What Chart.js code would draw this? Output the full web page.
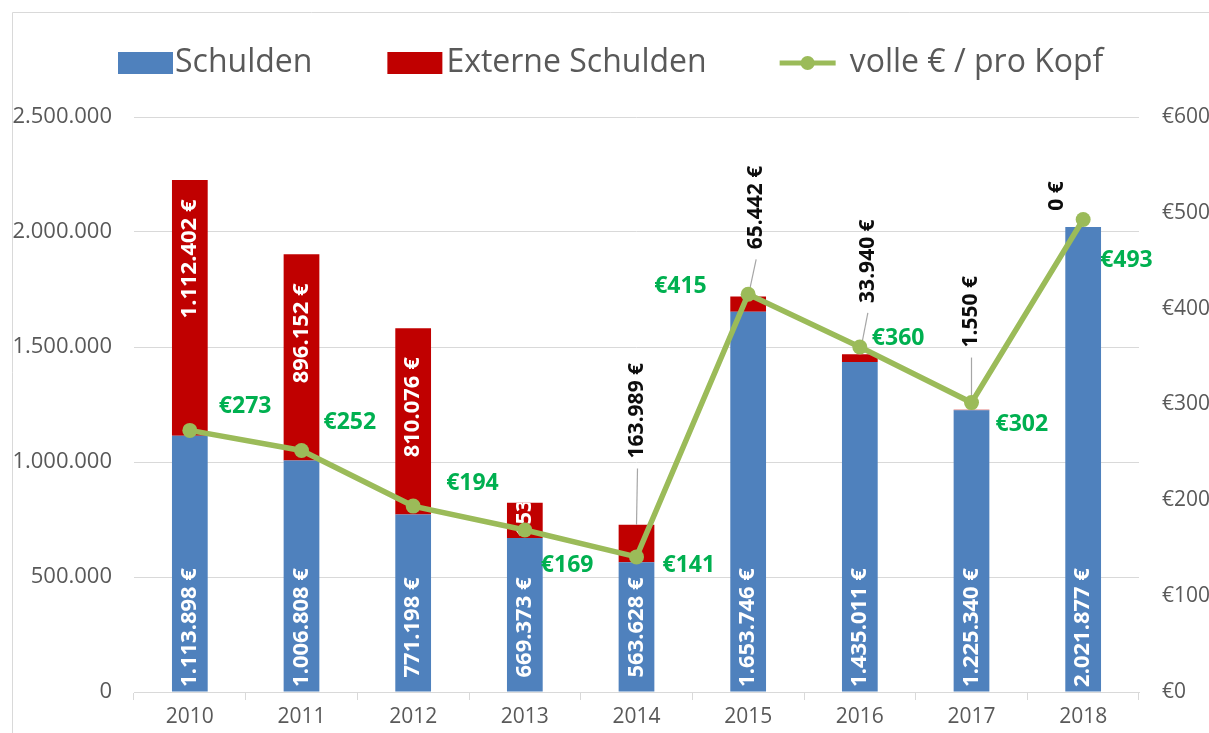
<!DOCTYPE html>
<html>
<head>
<meta charset="utf-8">
<script src="https://cdn.jsdelivr.net/npm/chart.js@4.4.1/dist/chart.umd.min.js"></script>
<style>
  html, body { margin: 0; padding: 0; background: #fff; }
  #wrap { width: 1209px; height: 733px; }
</style>
</head>
<body>
<div id="wrap"><canvas id="myChart" width="1209" height="733"></canvas></div>
<script>
"use strict";

const years = ["2010", "2011", "2012", "2013", "2014", "2015", "2016", "2017", "2018"];
const schulden = [1113898, 1006808, 771198, 669373, 563628, 1653746, 1435011, 1225340, 2021877];
const externeSchulden = [1112402, 896152, 810076, 153000, 163989, 65442, 33940, 1550, 0];
const proKopf = [273, 252, 194, 169, 141, 415, 360, 302, 493];

const blue = "#4f81bd";
const red = "#c00000";
const lineGreen = "#9bbb59";
const labelGreen = "#00b050";
const grey = "#595959";
const font = "'Open Sans', 'Liberation Sans', sans-serif";

// how each red label is placed: inside top, clipped, or callout above the bar
const extMode = ["in", "in", "in", "clip", "out", "out", "out", "out", "out"];
// callout label centre relative to the bar top [dx, dy]
const calloutPos = { 4: [1, -114], 5: [8, -89], 6: [8, -93], 7: [0, -98], 8: [-26, -31] };
// green label left edge / middle relative to the point [dx, dy]
const pkOffset = [[29, -24], [22, -28], [33, -23], [16, 35], [26, 9], [-94, -8], [12, -9], [24, 22], [17, 41]];

function fmt(v) {
  return String(Math.round(v)).replace(/\B(?=(\d{3})+(?!\d))/g, ".");
}

function rotText(ctx, text, x, y, align) {
  ctx.save();
  ctx.translate(x, y);
  ctx.rotate(-Math.PI / 2);
  ctx.textAlign = align;
  ctx.textBaseline = "middle";
  ctx.fillText(text, 0, 0);
  ctx.restore();
}

const frame = {
  id: "frame",
  beforeDraw(chart) {
    const ctx = chart.ctx;
    ctx.save();
    ctx.fillStyle = "#fff";
    ctx.fillRect(0, 0, chart.width, chart.height);
    ctx.strokeStyle = "#d9d9d9";
    ctx.lineWidth = 1;
    ctx.beginPath();
    ctx.moveTo(12.5, chart.height);
    ctx.lineTo(12.5, 12.5);
    ctx.lineTo(chart.width, 12.5);
    ctx.stroke();

    // legend
    ctx.font = "32px " + font;
    ctx.textBaseline = "middle";
    ctx.textAlign = "left";
    let x = 118;
    const y = 63;
    ctx.fillStyle = blue;
    ctx.fillRect(x, 52, 55, 22);
    x += 57;
    ctx.fillStyle = grey;
    ctx.fillText("Schulden", x, y);
    x += ctx.measureText("Schulden").width + 75;
    ctx.fillStyle = red;
    ctx.fillRect(x, 52, 55, 22);
    x += 59;
    ctx.fillStyle = grey;
    ctx.fillText("Externe Schulden", x, y);
    x += ctx.measureText("Externe Schulden").width + 73;
    ctx.strokeStyle = lineGreen;
    ctx.lineWidth = 5;
    ctx.beginPath();
    ctx.moveTo(x, y);
    ctx.lineTo(x + 56, y);
    ctx.stroke();
    ctx.fillStyle = lineGreen;
    ctx.beginPath();
    ctx.arc(x + 28, y, 7, 0, Math.PI * 2);
    ctx.fill();
    x += 70;
    ctx.fillStyle = grey;
    ctx.fillText("volle € / pro Kopf", x, y);
    ctx.restore();
  },
  afterDatasetDraw(chart, args) {
    if (args.index !== 0) return;
    const ctx = chart.ctx;
    const base = chart.getDatasetMeta(0).data;
    const ext = chart.getDatasetMeta(1).data;
    ctx.save();
    ctx.font = "bold 22px " + font;
    ctx.fillStyle = "#fff";
    base.forEach((bar, i) => {
      rotText(ctx, fmt(schulden[i]) + " €", bar.x, bar.base - 64, "center");
    });
    ext.forEach((bar, i) => {
      const txt = fmt(externeSchulden[i]) + " €";
      if (extMode[i] === "in") {
        ctx.fillStyle = "#fff";
        ctx.font = "bold 22px " + font;
        rotText(ctx, txt, bar.x, bar.y + 79, "center");
      } else if (extMode[i] === "clip") {
        ctx.save();
        ctx.beginPath();
        ctx.rect(bar.x - bar.width / 2, bar.y, bar.width, bar.base - bar.y);
        ctx.clip();
        ctx.fillStyle = "#fff";
        ctx.font = "bold 22px " + font;
        rotText(ctx, txt, bar.x, bar.base - 1, "left");
        ctx.restore();
      } else {
        const p = calloutPos[i];
        ctx.font = "bold 21px " + font;
        const w = ctx.measureText(txt).width;
        const lx = bar.x + p[0];
        const ly = bar.y + p[1];
        if (p[1] < -40) {
          ctx.strokeStyle = "#a6a6a6";
          ctx.lineWidth = 1.2;
          ctx.beginPath();
          ctx.moveTo(bar.x, bar.y);
          ctx.lineTo(lx, ly + w / 2 + 10);
          ctx.stroke();
        }
        ctx.fillStyle = "#0d0d0d";
        rotText(ctx, txt, lx, ly, "center");
      }
    });
    ctx.restore();
  },
  afterDatasetsDraw(chart) {
    const ctx = chart.ctx;
    const pts = chart.getDatasetMeta(2).data;
    ctx.save();
    ctx.font = "bold 23px " + font;
    ctx.fillStyle = labelGreen;
    ctx.textAlign = "left";
    ctx.textBaseline = "middle";
    pts.forEach((pt, i) => {
      ctx.fillText("€" + proKopf[i], pt.x + pkOffset[i][0], pt.y + pkOffset[i][1]);
    });
    ctx.restore();
  },
};

const tickFont = { family: font, size: 21 };

new Chart("myChart", {
  type: "bar",
  data: {
    labels: years,
    datasets: [
      {
        label: "Schulden",
        data: schulden,
        backgroundColor: blue,
        stack: "s",
        order: 1,
        barPercentage: 0.32,
        categoryPercentage: 1,
      },
      {
        label: "Externe Schulden",
        data: externeSchulden,
        backgroundColor: red,
        stack: "s",
        order: 1,
        barPercentage: 0.32,
        categoryPercentage: 1,
      },
      {
        type: "line",
        label: "volle € / pro Kopf",
        data: proKopf,
        yAxisID: "y1",
        borderColor: lineGreen,
        backgroundColor: lineGreen,
        borderWidth: 5.5,
        pointRadius: 7.5,
        pointBorderWidth: 0,
        tension: 0,
        order: 0,
      },
    ],
  },
  options: {
    responsive: false,
    devicePixelRatio: 1,
    animation: false,
    layout: { padding: { top: 117, left: 0, right: 0, bottom: 0 } },
    plugins: {
      legend: { display: false },
      tooltip: { enabled: false },
    },
    scales: {
      x: {
        stacked: true,
        afterFit: (s) => { s.height = 41; },
        grid: {
          display: true,
          drawOnChartArea: false,
          drawTicks: true,
          tickLength: 8,
          color: "#d9d9d9",
          offset: true,
        },
        border: { display: true, color: "#d9d9d9" },
        ticks: { color: grey, font: tickFont, padding: 4 },
      },
      y: {
        stacked: true,
        min: 0,
        max: 2500000,
        afterFit: (s) => { s.width = 134; },
        grid: { color: "#d9d9d9", drawTicks: false },
        border: { display: false },
        ticks: {
          stepSize: 500000,
          color: grey,
          font: { family: font, size: 22 },
          padding: 22,
          callback: (v) => fmt(v),
        },
      },
      y1: {
        position: "right",
        min: 0,
        max: 600,
        afterFit: (s) => { s.width = 70; },
        grid: { display: false, drawTicks: false },
        border: { display: false },
        ticks: {
          stepSize: 100,
          color: grey,
          font: tickFont,
          padding: 23,
          callback: (v) => "€" + v,
        },
      },
    },
  },
  plugins: [frame],
});
</script>
</body>
</html>
